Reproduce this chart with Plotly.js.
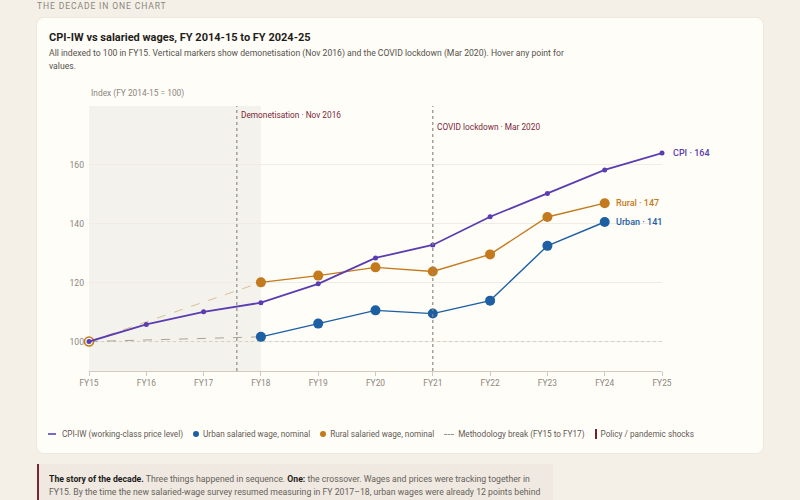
<!DOCTYPE html>
<html><head><meta charset="utf-8">
<script src="https://cdn.plot.ly/plotly-3.0.1.min.js"></script>
<style>
html,body{margin:0;padding:0;background:#f4f0e7;font-family:Roboto,"Noto Sans",sans-serif;}
#page{position:relative;width:800px;height:500px;overflow:hidden;}
#kicker{position:absolute;left:37px;top:1px;font-size:8.6px;letter-spacing:0.1em;color:#8c877c;}
#card{position:absolute;left:37px;top:18px;width:726px;height:435px;background:#fffdf8;border-radius:7px;box-shadow:0 0 0 1px #eee9df;}
#title{position:absolute;left:12px;top:13px;font-size:11px;font-weight:700;color:#1f1d1a;}
#sub{position:absolute;left:12px;top:29px;width:532px;font-size:8.65px;line-height:13px;color:#55524c;}
#chart{position:absolute;left:0;top:62px;width:726px;height:321px;}
#legend{position:absolute;left:11px;top:411px;font-size:8.2px;color:#5f5b54;display:flex;align-items:center;white-space:nowrap;}
#legend .it{display:flex;align-items:center;margin-right:10px;}
#legend .ln{display:inline-block;width:8px;height:2px;background:#7a68c8;margin-right:6px;}
#legend .dot{display:inline-block;width:6px;height:6px;border-radius:50%;margin-right:4px;}
#legend .dash{display:inline-block;width:10px;border-top:1.2px dashed #9a958c;margin-right:4px;}
#legend .bar{display:inline-block;width:2px;height:10px;background:#6e2232;margin-right:4px;}
#story{position:absolute;left:37px;top:464px;width:494px;height:40px;background:#efe9e1;border-left:2px solid #7a2636;padding:9px 10px 0 10px;font-size:8.7px;line-height:13px;color:#66625a;}
#story .l{white-space:nowrap;}
#story b{color:#1f1d1a;}
</style></head>
<body><div id="page">
<div id="kicker">THE DECADE IN ONE CHART</div>
<div id="card">
  <div id="title">CPI-IW vs salaried wages, FY 2014-15 to FY 2024-25</div>
  <div id="sub">All indexed to 100 in FY15. Vertical markers show demonetisation (Nov 2016) and the COVID lockdown (Mar 2020). Hover any point for values.</div>
  <div id="chart"></div>
  <div id="legend">
    <span class="it"><span class="ln"></span>CPI-IW (working-class price level)</span>
    <span class="it"><span class="dot" style="background:#1c5fa3"></span>Urban salaried wage, nominal</span>
    <span class="it"><span class="dot" style="background:#c47a1c"></span>Rural salaried wage, nominal</span>
    <span class="it"><span class="dash"></span>Methodology break (FY15 to FY17)</span>
    <span class="it"><span class="bar"></span>Policy / pandemic shocks</span>
  </div>
</div>
<div id="story">
  <div class="l"><b>The story of the decade.</b> <span>Three things happened in sequence.</span> <b>One:</b> <span>the crossover. Wages and prices were tracking together in</span></div>
  <div class="l">FY15. By the time the new salaried-wage survey resumed measuring in FY 2017–18, urban wages were already 12 points behind</div>
</div>
</div>
<script>
const years = ["FY15","FY16","FY17","FY18","FY19","FY20","FY21","FY22","FY23","FY24","FY25"];
const cpi = [100, 105.8, 110.1, 113.2, 119.6, 128.4, 132.8, 142.4, 150.3, 158.3, 164.0];
const urbanYears = ["FY18","FY19","FY20","FY21","FY22","FY23","FY24"];
const urban = [101.6, 106.1, 110.6, 109.5, 113.9, 132.5, 140.6];
const ruralYears = ["FY18","FY19","FY20","FY21","FY22","FY23","FY24"];
const rural = [120.1, 122.4, 125.2, 123.8, 129.6, 142.3, 147.0];
const breakYears = ["FY15","FY18"];
const urbanBreak = [100, 101.6];
const ruralBreak = [100, 120.1];
const shocks = [{x: 2.58, label: "Demonetisation · Nov 2016", shift: -2},
                {x: 6, label: "COVID lockdown · Mar 2020", shift: -14}];
const endLabels = [
  {name: "CPI · 164", yr: "FY25", v: 164.0, color: "#5a3db0"},
  {name: "Rural · 147", yr: "FY24", v: 147.0, color: "#c47a1c"},
  {name: "Urban · 141", yr: "FY24", v: 140.6, color: "#1c5fa3"}
];
const idx = y => years.indexOf(y);

const C_CPI = "#5a3db0", C_URB = "#1c5fa3", C_RUR = "#c47a1c";
const traces = [
  {x: [0,10], y:[100,100], mode:"lines", line:{color:"#d6d0c4", width:1, dash:"dot"}, hoverinfo:"skip"},
  {x: breakYears.map(idx), y: ruralBreak, mode:"lines", line:{color:"#d9bf95", width:1, dash:"dash"}, hoverinfo:"skip"},
  {x: breakYears.map(idx), y: urbanBreak, mode:"lines", line:{color:"#a9a49b", width:1, dash:"dash"}, hoverinfo:"skip"},
  {x: ruralYears.map(idx), y: rural, mode:"lines+markers", line:{color:C_RUR, width:1.4}, marker:{size:10, color:C_RUR}, cliponaxis:false},
  {x: urbanYears.map(idx), y: urban, mode:"lines+markers", line:{color:C_URB, width:1.4}, marker:{size:10, color:C_URB}, cliponaxis:false},
  {x: [0], y: [100], mode:"markers", marker:{size:9, color:"#fffdf8", line:{color:C_RUR, width:1.6}}, hoverinfo:"skip", cliponaxis:false},
  {x: years.map(idx), y: cpi, mode:"lines+markers", line:{color:C_CPI, width:1.8}, marker:{size:5, color:C_CPI}, cliponaxis:false}
];
const shapes = [
  {type:"rect", xref:"x", yref:"paper", x0:0, x1:3, y0:0, y1:1, fillcolor:"#f4f2ec", line:{width:0}, layer:"below"}
];
const annotations = [
  {xref:"paper", yref:"paper", x:0, y:1, xanchor:"left", yanchor:"bottom", yshift:5, showarrow:false,
   text:"Index (FY 2014-15 = 100)", font:{size:8.4, color:"#8c877d"}}
];
shocks.forEach(s => {
  shapes.push({type:"line", xref:"x", yref:"paper", x0:s.x, x1:s.x, y0:0, y1:1, line:{color:"#8f8a82", width:1.2, dash:"dot"}});
  annotations.push({xref:"x", yref:"paper", x:s.x, y:1, xanchor:"left", yanchor:"top", xshift:2, yshift:s.shift, showarrow:false,
    text:s.label, font:{size:8.3, color:"#7a2838"}});
});
endLabels.forEach(e => {
  annotations.push({xref:"x", yref:"y", x:idx(e.yr), y:e.v, xanchor:"left", yanchor:"middle", xshift:9, showarrow:false,
    text:e.name, font:{size:9, color:e.color, weight:500}});
});
const layout = {
  width:726, height:321,
  margin:{l:52, r:101, t:26, b:30},
  paper_bgcolor:"rgba(0,0,0,0)", plot_bgcolor:"rgba(0,0,0,0)",
  showlegend:false,
  font:{family:"Roboto, 'Noto Sans', sans-serif", size:8.5, color:"#8c877d"},
  xaxis:{range:[0,10], tickvals:years.map(idx), ticktext:years, showgrid:false, zeroline:false,
         showline:true, linecolor:"#cfcac0", linewidth:1, ticks:"outside", ticklen:4, tickcolor:"#cfcac0",
         tickfont:{size:8.4, color:"#8c877d"}, fixedrange:true},
  yaxis:{range:[90,180], tickvals:[100,120,140,160], showgrid:true, gridcolor:"#efece5", zeroline:false,
         showline:false, ticks:"", ticklabelstandoff:4, tickfont:{size:8.6, color:"#8c877d"}, fixedrange:true},
  shapes:shapes, annotations:annotations
};
Plotly.newPlot("chart", traces, layout, {displayModeBar:false, responsive:false});
</script>
</body></html>
